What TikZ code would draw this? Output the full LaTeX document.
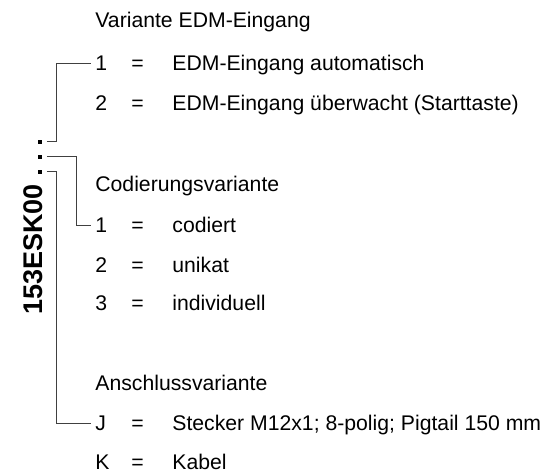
\documentclass[tikz,border=0pt]{standalone}
\usepackage{fontspec}
\setmainfont{Liberation Sans}
\begin{document}
\begin{tikzpicture}[x=0.5pt, y=-0.5pt,
    txt/.style={anchor=base west, inner sep=0pt, font=\fontsize{10.6}{12.7}\selectfont},
    key/.style={txt, inner sep=2pt},
    code/.style={rotate=90, anchor=base west, inner sep=0pt, font=\bfseries\fontsize{13.5}{16}\selectfont},
    dot/.style={fill=black, minimum size=2pt, inner sep=0pt},
    conn/.style={draw=black!75, line width=0.5pt}]
    \useasboundingbox (0,0) rectangle (545,474);

    % Type code with its three places
    \node[code] (code) at (42,315) {153ESK00};
    \node[dot] (p1) at (39.5,142) {};
    \node[dot] (p2) at (39.5,157) {};
    \node[dot] (p3) at (39.5,172) {};

    % Variante EDM-Eingang
    \node[txt] (edm) at (95,27.5) {Variante EDM-Eingang};
    \node[key] (e1) at (91,70.5) {1};
    \node[txt] at (131,70.5) {=};
    \node[txt] at (172,70.5) {EDM-Eingang automatisch};
    \node[key] (e2) at (91,110.5) {2};
    \node[txt] at (131,110.5) {=};
    \node[txt] at (172,110.5) {EDM-Eingang überwacht (Starttaste)};

    % Codierungsvariante
    \node[txt] (cod) at (95,191.5) {Codierungsvariante};
    \node[key] (c1) at (91,232.5) {1};
    \node[txt] at (131,232.5) {=};
    \node[txt] at (172,232.5) {codiert};
    \node[key] (c2) at (91,272.5) {2};
    \node[txt] at (131,272.5) {=};
    \node[txt] at (172,272.5) {unikat};
    \node[key] (c3) at (91,311) {3};
    \node[txt] at (131,311) {=};
    \node[txt] at (172,311) {individuell};

    % Anschlussvariante
    \node[txt] (ans) at (95,390.5) {Anschlussvariante};
    \node[key] (aJ) at (91,431) {J};
    \node[txt] at (131,431) {=};
    \node[txt] at (172,431) {Stecker M12x1; 8-polig; Pigtail 150 mm};
    \node[key] (aK) at (91,470) {K};
    \node[txt] at (131,470) {=};
    \node[txt] at (172,470) {Kabel};

    % Connectors
    \draw[conn] ([xshift=2.5pt]p1.east) -- ++(10,0) |- (e1.west);
    \draw[conn] ([xshift=2.5pt]p2.east) -- ++(30,0) |- (c1.west);
    \draw[conn] ([xshift=2.5pt]p3.east) -- ++(10,0) |- (aJ.west);
\end{tikzpicture}
\end{document}
